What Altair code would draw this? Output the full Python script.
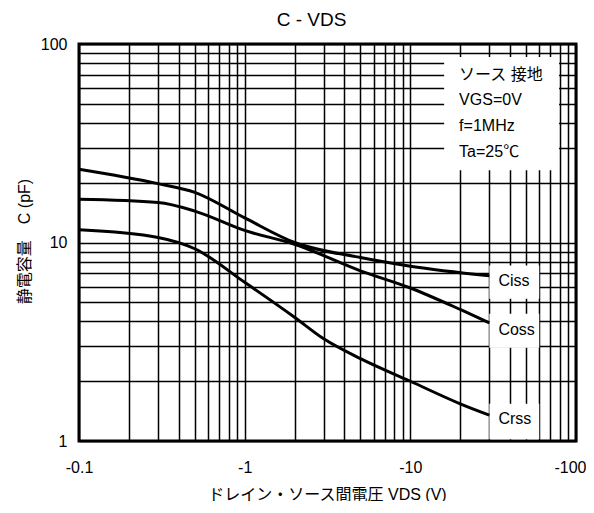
import altair as alt
import pandas as pd

# ---- data ----
ciss_vds = [0.1, 0.3, 0.5, 1, 2, 5, 10, 30]
ciss_c = [23.4, 19.8, 17.9, 13.3, 10.0, 8.4, 7.6, 6.8]
coss_vds = [0.1, 0.3, 0.5, 1, 2, 5, 10, 20, 30]
coss_c = [16.5, 15.9, 14.4, 11.5, 9.8, 7.2, 5.9, 4.6, 3.94]
crss_vds = [0.1, 0.3, 0.5, 1, 2, 3, 5, 10, 20, 30]
crss_c = [11.6, 10.6, 9.3, 6.3, 4.2, 3.27, 2.6, 2.0, 1.54, 1.35]

series_names = ["Ciss", "Coss", "Crss"]
label_y = [6.43, 3.64, 1.29]
label_box_top = [7.65, 4.38, 1.54]
label_box_bottom = [5.21, 2.95, 1.02]
label_x_left = 30
label_x_right = 60

cond_lines = ["ソース 接地", "VGS=0V", "f=1MHz", "Ta=25℃"]
cond_y = [69.7, 52.1, 38.5, 28.5]
cond_x = 19.7
cond_box = {"x1": 16.0, "x2": 79.0, "y1": 86.0, "y2": 23.1}

x_ticks = [0.1, 0.2, 0.3, 0.4, 0.5, 0.6, 0.7, 0.8, 0.9,
           1, 2, 3, 4, 5, 6, 7, 8, 9,
           10, 20, 30, 40, 50, 60, 70, 80, 90, 100]
y_ticks = [1, 2, 3, 4, 5, 6, 7, 8, 9,
           10, 20, 30, 40, 50, 60, 70, 80, 90, 100]

FONT = "Liberation Sans, Arial, Noto Sans CJK JP"

# ---- tables ----
rows = []
for name, xs, ys in [("Ciss", ciss_vds, ciss_c), ("Coss", coss_vds, coss_c), ("Crss", crss_vds, crss_c)]:
    for xv, yv in zip(xs, ys):
        rows.append({"series": name, "vds": xv, "c": yv})
curves = pd.DataFrame(rows)

labels = pd.DataFrame({
    "name": series_names,
    "vds": [label_x_left] * 3,
    "vds2": [label_x_right] * 3,
    "c": label_y,
    "top": label_box_top,
    "bottom": label_box_bottom,
})

cond = pd.DataFrame({"txt": cond_lines, "vds": [cond_x] * 4, "c": cond_y})
cbox = pd.DataFrame([{"vds": cond_box["x1"], "vds2": cond_box["x2"],
                      "top": cond_box["y1"], "bottom": cond_box["y2"]}])

x_axis = alt.Axis(
    values=x_ticks,
    labelExpr="datum.value == 0.1 ? '-0.1' : datum.value == 1 ? '-1' : datum.value == 10 ? '-10' : datum.value == 100 ? '-100' : ''",
    labelAlign={"condition": {"test": "datum.value == 100", "value": "right"}, "value": "center"},
    labelOffset={"condition": {"test": "datum.value == 100", "value": 10}, "value": 0},
    grid=True, gridColor="black", gridWidth=1.5, gridOpacity=1,
    ticks=False, domain=False,
    labelFont=FONT, labelFontSize=16, labelColor="black", labelPadding=18,
    labelOverlap=False, labelFlush=False,
    title="ドレイン・ソース間電圧  VDS (V)",
    titleFont=FONT, titleFontSize=16, titleFontWeight="normal", titleColor="black",
    titleX=248, titleY=53, titleAlign="center", titleBaseline="middle",
)
y_axis = alt.Axis(
    values=y_ticks,
    labelExpr="datum.value == 1 ? '1' : datum.value == 10 ? '10' : datum.value == 100 ? '100' : ''",
    grid=True, gridColor="black", gridWidth=1.5, gridOpacity=1,
    ticks=False, domain=False,
    labelFont=FONT, labelFontSize=16, labelColor="black", labelPadding=12,
    labelOverlap=False, labelFlush=False,
    title="静電容量　C (pF)",
    titleFont=FONT, titleFontSize=16, titleFontWeight="normal", titleColor="black",
    titleX=-55, titleY=197, titleAngle=270, titleAlign="center", titleBaseline="middle",
)

xs = alt.Scale(type="log", domain=[0.1, 100])
ys = alt.Scale(type="log", domain=[1, 100])


def X(field):
    return alt.X(field, type="quantitative", scale=xs, axis=x_axis)


def Y(field):
    return alt.Y(field, type="quantitative", scale=ys, axis=y_axis)


lines = alt.Chart(curves).mark_line(color="black", strokeWidth=3, interpolate="monotone").encode(
    x=X("vds"), y=Y("c"), detail="series:N"
)

label_boxes = alt.Chart(labels).mark_rect(color="white").encode(
    x=X("vds"), x2="vds2", y=Y("top"), y2="bottom"
)
label_text = alt.Chart(labels).mark_text(
    align="left", baseline="middle", dx=9, font=FONT, fontSize=16, color="black"
).encode(x=X("vds"), y=Y("c"), text="name:N")

cond_rect = alt.Chart(cbox).mark_rect(color="white").encode(
    x=X("vds"), x2="vds2", y=Y("top"), y2="bottom"
)
cond_text = alt.Chart(cond).mark_text(
    align="left", baseline="middle", font=FONT, fontSize=16, color="black"
).encode(x=X("vds"), y=Y("c"), text="txt:N")

chart = alt.layer(label_boxes, cond_rect, lines, label_text, cond_text).properties(
    width=497, height=397,
    autosize="none",
    padding={"left": 71, "top": 36, "right": 10, "bottom": 60},
    title=alt.TitleParams(text="C - VDS", font=FONT, fontSize=19, fontWeight="normal",
                          color="black", anchor="middle", dx=-16, offset=6),
).configure_view(stroke="black", strokeWidth=3)

chart.save("out.html", embed_options={"renderer": "svg", "actions": False})
